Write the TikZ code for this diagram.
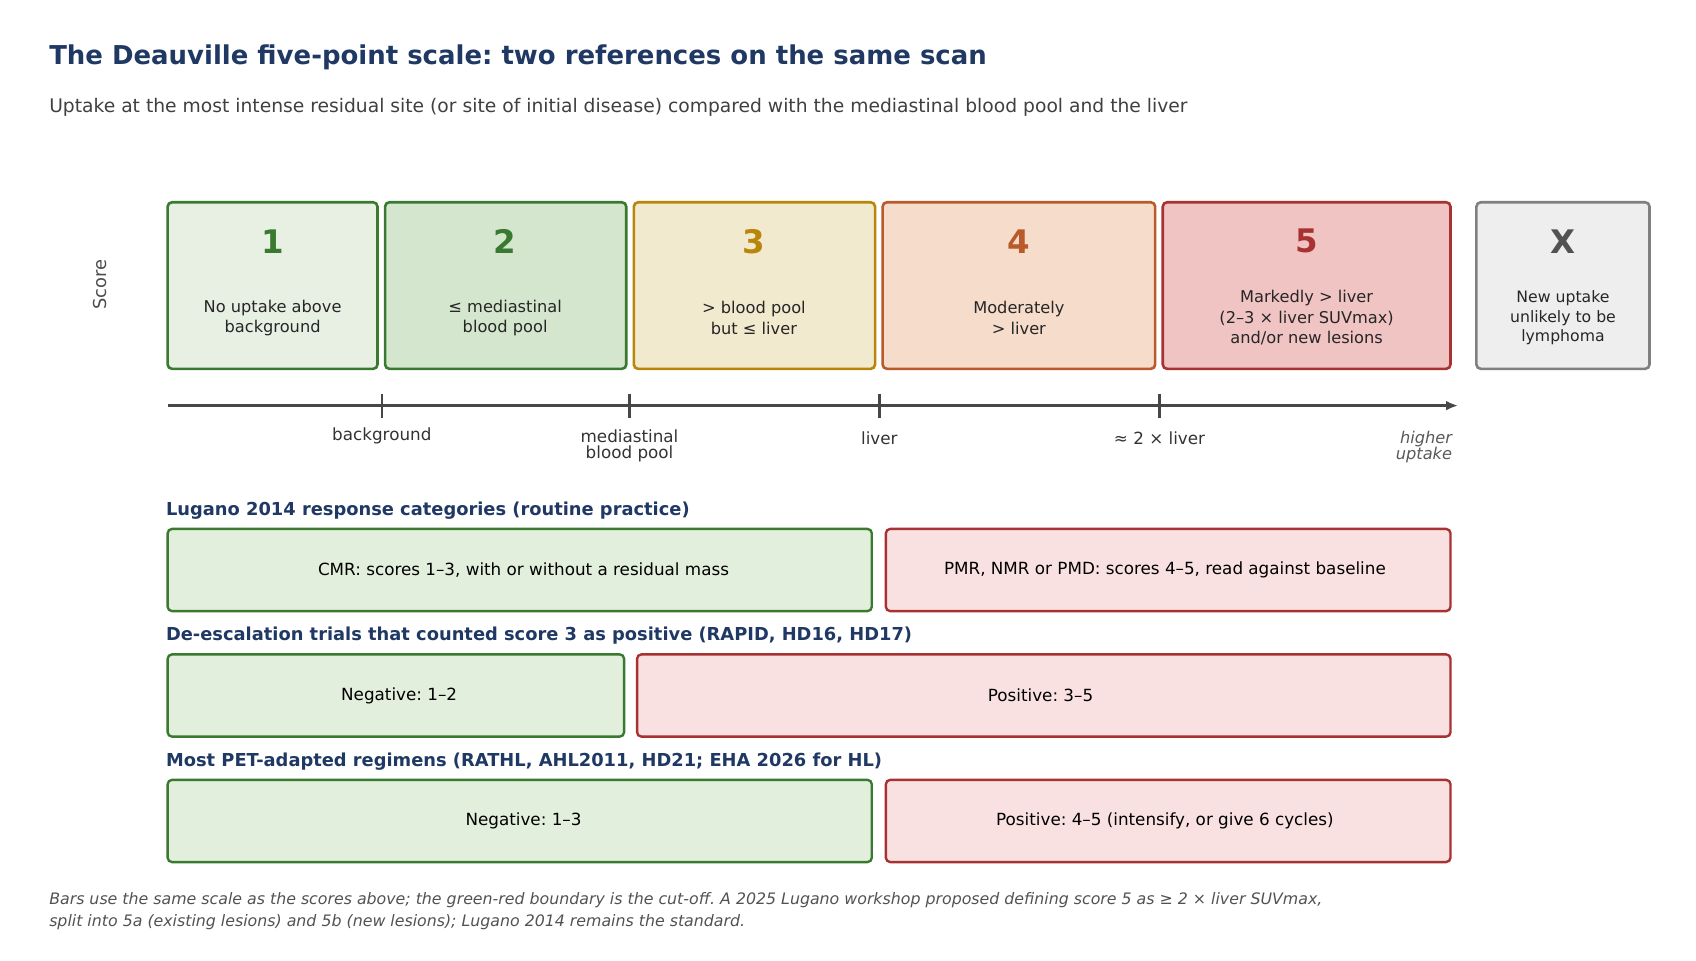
\documentclass[tikz,border=0pt]{standalone}
\usepackage{fontspec}
\setmainfont{DejaVu Sans}
\usetikzlibrary{arrows.meta}
\definecolor{navy}{HTML}{1F3864}
\definecolor{gA}{HTML}{3A7A30}
\definecolor{yA}{HTML}{B8860B}
\definecolor{oA}{HTML}{B85A2A}
\definecolor{rA}{HTML}{A83232}
\definecolor{xA}{HTML}{808080}
\definecolor{f1}{HTML}{E8F0E4}
\definecolor{f2}{HTML}{D4E6CE}
\definecolor{f3}{HTML}{F2EACF}
\definecolor{f4}{HTML}{F6DCCB}
\definecolor{f5}{HTML}{F1C4C4}
\definecolor{fx}{HTML}{EEEEEE}
\definecolor{fg}{HTML}{E2EFDC}
\definecolor{fr}{HTML}{F9E1E1}
\begin{document}
\frenchspacing
\begin{tikzpicture}[x=1pt,y=-1pt,
 sbox/.style={draw=#1,line width=2.4pt,rounded corners=4pt},
 num/.style={font=\fontsize{30}{30}\selectfont\bfseries,anchor=center},
 desc/.style={font=\fontsize{15}{19}\selectfont,align=center,text=black!85},
 hdr/.style={font=\fontsize{16.5}{18}\selectfont\bfseries,text=navy,anchor=west},
 bar/.style={line width=2.2pt,rounded corners=4pt},
 gbar/.style={bar,draw=gA,fill=fg},
 rbar/.style={bar,draw=rA,fill=fr},
 blab/.style={font=\fontsize{15.5}{16}\selectfont},
 tlab/.style={font=\fontsize{15.5}{16}\selectfont,align=center,text=black!80}]
\useasboundingbox (0,0) rectangle (1568,888);
\node[anchor=west,font=\fontsize{24}{26}\selectfont\bfseries,text=navy] (title) at (42,53) {The Deauville five-point scale: two references on the same scan};
\node[anchor=west,font=\fontsize{17.3}{18}\selectfont,text=black!75] (sub) at (42,99) {Uptake at the most intense residual site (or site of initial disease) compared with the mediastinal blood pool and the liver};
\node[rotate=90,font=\fontsize{16.5}{16}\selectfont,text=black!70] (score) at (92,263) {Score};
% boxes
\draw[sbox=gA,fill=f1] (155,187) rectangle (349,341);
\draw[sbox=gA,fill=f2] (356,187) rectangle (579,341);
\draw[sbox=yA,fill=f3] (586,187) rectangle (809,341);
\draw[sbox=oA,fill=f4] (816,187) rectangle (1068,341);
\draw[sbox=rA,fill=f5] (1075,187) rectangle (1341,341);
\draw[sbox=xA,fill=fx] (1365,187) rectangle (1525,341);
\node[num,text=gA] (n1) at (252,223) {1};
\node[num,text=gA] (n2) at (467,223) {2};
\node[num,text=yA] (n3) at (697,223) {3};
\node[num,text=oA] (n4) at (942,223) {4};
\node[num,text=rA] (n5) at (1208,223) {5};
\node[num,text=black!68] (nx) at (1445,223) {X};
\node[desc] (d1) at (252,294) {No uptake above\\background};
\node[desc] (d2) at (467,294) {≤ mediastinal\\blood pool};
\node[desc] (d3) at (697,294) {> blood pool\\but ≤ liver};
\node[desc] (d4) at (942,294) {Moderately\\> liver};
\node[desc] (d5) at (1208,294) {Markedly > liver\\(2–3 × liver SUVmax)\\and/or new lesions};
\node[desc,font=\fontsize{14.5}{18}\selectfont] (dx) at (1445,294) {New uptake\\unlikely to be\\lymphoma};
% axis
\coordinate (a0) at (155,375); \coordinate (a1) at (1348,375);
\draw[line width=2.4pt,black!72,-{Latex[length=11pt,width=9pt]}] (a0) -- (a1);
\foreach \x in {353,582,813,1072}{\draw[line width=2.4pt,black!72] (\x,364) -- (\x,386);}
\node[tlab] (l1) at (353,403) {background};
\node[tlab] (l2) at (582,412) {mediastinal\\[-1pt]blood pool};
\node[tlab] (l3) at (813,405) {liver};
\node[tlab] (l4) at (1072,405) {≈ 2 × liver};
\node[tlab,anchor=east,font=\fontsize{15}{16}\selectfont\itshape,text=black!65,align=right] (l5) at (1346,413) {higher\\[-1pt]uptake};
% rows
\node[hdr] (h1) at (150,472) {Lugano 2014 response categories (routine practice)};
\draw[gbar] (155,489) rectangle (806,565);
\draw[rbar] (819,489) rectangle (1341,565);
\node[blab] at (484,527) {CMR: scores 1–3, with or without a residual mass};
\node[blab] at (1077,527) {PMR, NMR or PMD: scores 4–5, read against baseline};
\node[hdr] (h2) at (150,588) {De-escalation trials that counted score 3 as positive (RAPID, HD16, HD17)};
\draw[gbar] (155,605) rectangle (577,681);
\draw[rbar] (589,605) rectangle (1341,681);
\node[blab] at (369,643) {Negative: 1–2};
\node[blab] at (962,643) {Positive: 3–5};
\node[hdr] (h3) at (150,704) {Most PET-adapted regimens (RATHL, AHL2011, HD21; EHA 2026 for HL)};
\draw[gbar] (155,721) rectangle (806,797);
\draw[rbar] (819,721) rectangle (1341,797);
\node[blab] at (484,759) {Negative: 1–3};
\node[blab] at (1077,759) {Positive: 4–5 (intensify, or give 6 cycles)};
\node[anchor=north west,align=left,font=\fontsize{14.6}{20}\selectfont\itshape,text=black!68] (foot) at (42,822) {Bars use the same scale as the scores above; the green-red boundary is the cut-off. A 2025 Lugano workshop proposed defining score 5 as ≥ 2 × liver SUVmax,\\split into 5a (existing lesions) and 5b (new lesions); Lugano 2014 remains the standard.};
\end{tikzpicture}
\end{document}
